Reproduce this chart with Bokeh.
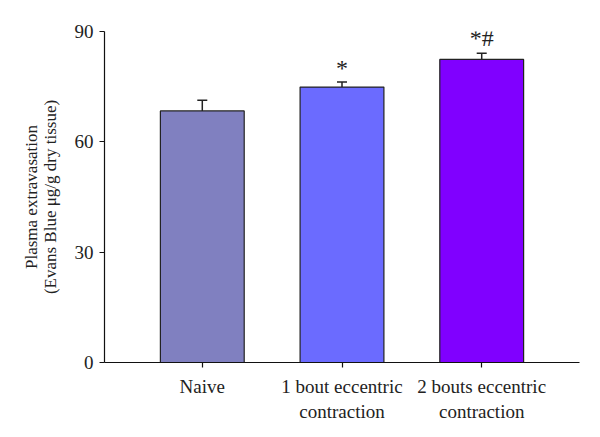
from bokeh.plotting import figure
from bokeh.models import ColumnDataSource, FixedTicker, Range1d, Whisker, TeeHead
from bokeh.core.properties import value
from bokeh.embed import file_html
from bokeh.resources import INLINE

categories = ["Naive", "1 bout eccentric\ncontraction", "2 bouts eccentric\ncontraction"]
means = [68.4, 74.9, 82.4]
errors = [2.9, 1.4, 1.7]
marks = ["", "*", "*#"]
mark_y = [0, 80.0, 88.3]
colors = ["#8080C0", "#6B6BFF", "#8000FF"]
y_ticks = [0, 30, 60, 90]

xs = list(range(len(categories)))
src = ColumnDataSource(dict(
    x=xs, top=means, upper=[m + e for m, e in zip(means, errors)],
    color=colors, mark=marks, mark_y=mark_y,
))

FONT = "Liberation Serif"

p = figure(width=590, height=430, output_backend="svg", toolbar_location=None,
           x_range=Range1d(-0.7, 2.7), y_range=Range1d(0, 90),
           min_border_left=104, min_border_right=11, min_border_top=31, min_border_bottom=68)
p.outline_line_color = None
p.xgrid.visible = False
p.ygrid.visible = False

p.vbar(x="x", top="top", bottom=0, width=0.6, fill_color="color",
       line_color="#222222", line_width=1.2, source=src)

w = Whisker(base="x", lower="top", upper="upper", source=src,
            line_color="#222222", line_width=1.5,
            upper_head=TeeHead(size=10, line_color="#222222", line_width=1.5),
            lower_head=None)
p.add_layout(w)

p.text(x="x", y="mark_y", text="mark", source=src, text_align="center",
       text_baseline="middle", text_font=value(FONT), text_font_size="24px",
       text_color="#222222")

p.xaxis.ticker = FixedTicker(ticks=xs)
p.xaxis.major_label_overrides = {i: c for i, c in zip(xs, categories)}
p.yaxis.ticker = FixedTicker(ticks=y_ticks)

for ax in (p.xaxis[0], p.yaxis[0]):
    ax.axis_line_color = "#111111"
    ax.axis_line_width = 1.2
    ax.major_tick_line_color = "#111111"
    ax.major_tick_line_width = 1.2
    ax.major_tick_out = 5
    ax.major_tick_in = 0
    ax.minor_tick_line_color = None
    ax.major_label_text_font = FONT
    ax.major_label_text_font_size = "19px"
    ax.major_label_text_color = "#222222"

p.xaxis.major_label_standoff = 8
p.yaxis.major_label_standoff = 6
p.yaxis.axis_label = "Plasma extravasation\n(Evans Blue μg/g dry tissue)"
p.yaxis.axis_label_text_font = FONT
p.yaxis.axis_label_text_font_style = "normal"
p.yaxis.axis_label_text_font_size = "17px"
p.yaxis.axis_label_text_line_height = 1.0
p.yaxis.axis_label_text_color = "#222222"
p.yaxis.axis_label_standoff = 12

open("out.html", "w").write(file_html(p, INLINE))
